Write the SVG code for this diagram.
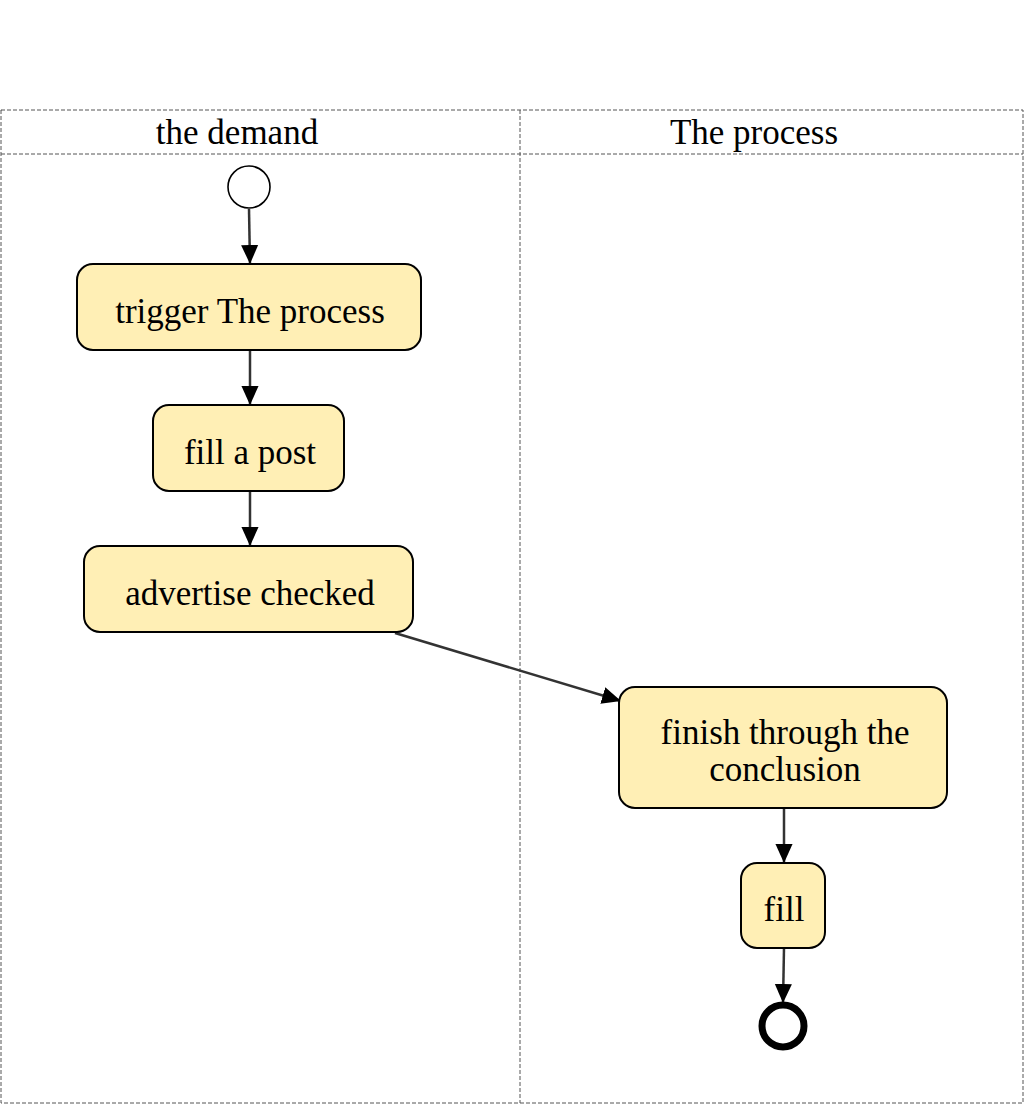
<svg xmlns="http://www.w3.org/2000/svg" width="1024" height="1104" viewBox="0 0 1024 1104">
<style>
.lane{fill:none;stroke:#555;stroke-width:1;stroke-dasharray:4,2}
.t{font-family:"Liberation Serif","Times New Roman",serif;font-size:35px;fill:#000;text-anchor:middle}
.task{fill:#ffefb5;stroke:#000;stroke-width:2}
.edge{fill:none;stroke:#333;stroke-width:2.5}
</style>
<defs>
<marker id="arr" viewBox="0 0 10 10" refX="10" refY="5" markerWidth="19" markerHeight="19" markerUnits="userSpaceOnUse" orient="auto"><path d="M0,0.5 L10,5 L0,9.5 z" fill="#000"/></marker>
</defs>
<rect width="1024" height="1104" fill="#fff"/>
<g id="lanes">
<rect class="lane" x="1" y="110" width="1022" height="993"/>
<line class="lane" x1="1" y1="154" x2="1023" y2="154"/>
<line class="lane" x1="520" y1="110" x2="520" y2="1103"/>
<text class="t" x="237" y="144">the demand</text>
<text class="t" x="754" y="144">The process</text>
</g>
<g id="connectors">
<line class="edge" x1="249" y1="209" x2="250" y2="264" marker-end="url(#arr)"/>
<line class="edge" x1="250" y1="350" x2="250" y2="405" marker-end="url(#arr)"/>
<line class="edge" x1="250" y1="491" x2="250" y2="546" marker-end="url(#arr)"/>
<line class="edge" x1="395" y1="633" x2="621" y2="701" marker-end="url(#arr)"/>
<line class="edge" x1="784" y1="808" x2="784" y2="863" marker-end="url(#arr)"/>
<line class="edge" x1="784" y1="948" x2="783" y2="1003" marker-end="url(#arr)"/>
</g>
<g id="start"><circle cx="249" cy="187" r="21" fill="#fff" stroke="#000" stroke-width="1.6"/></g>
<g id="n1"><rect class="task" x="77" y="264" width="344" height="86" rx="16"/><text class="t" x="250" y="323">trigger The process</text></g>
<g id="n2"><rect class="task" x="153" y="405" width="191" height="86" rx="16"/><text class="t" x="250" y="464">fill a post</text></g>
<g id="n3"><rect class="task" x="84" y="546" width="329" height="86" rx="16"/><text class="t" x="250" y="605">advertise checked</text></g>
<g id="n4"><rect class="task" x="619" y="687" width="328" height="121" rx="16"/><text class="t" x="785" y="744">finish through the</text><text class="t" x="785" y="781">conclusion</text></g>
<g id="n5"><rect class="task" x="741" y="863" width="84" height="85" rx="16"/><text class="t" x="784" y="921">fill</text></g>
<g id="end"><circle cx="783" cy="1026" r="21" fill="#fff" stroke="#000" stroke-width="7"/></g>
</svg>
